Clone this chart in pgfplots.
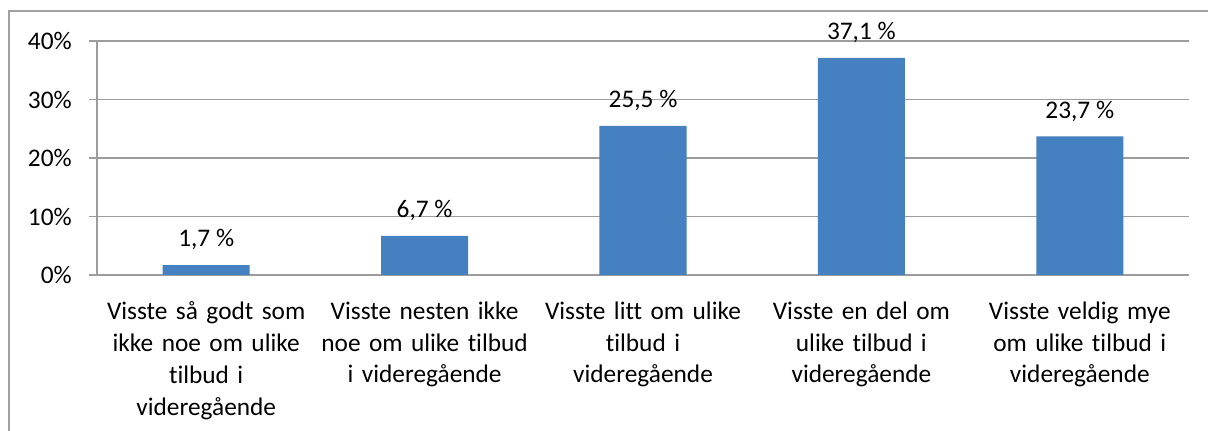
\documentclass[border=0pt]{standalone}
\usepackage{fontspec}
\setmainfont{Carlito}[Ligatures={NoCommon}]
\usepackage{pgfplots}
\pgfplotsset{compat=1.18}
\definecolor{barblue}{HTML}{4580C0}
\definecolor{gridgrey}{HTML}{9C9C9C}
\definecolor{framegrey}{HTML}{A0A0A0}
\begin{document}
\fontsize{19}{23.8}\selectfont
\begin{tikzpicture}
\useasboundingbox (0,0) rectangle (906pt,323.25pt);
\draw[framegrey,line width=0.9pt] (6.75pt,-10pt) -- (6.75pt,315pt) -- (915pt,315pt);
\begin{axis}[
  at={(72.75pt,117pt)}, anchor=south west,
  scale only axis,
  width=819pt, height=175.5pt,
  xmin=-0.5, xmax=4.5, ymin=0, ymax=40,
  axis x line*=bottom, axis y line*=left,
  axis line style={gridgrey,line width=0.8pt},
  ytick={0,10,20,30,40},
  yticklabel={\pgfmathprintnumber{\tick}\%},
  ymajorgrids, major grid style={gridgrey,line width=0.8pt},
  ytick style={gridgrey,line width=0.8pt},
  major tick length=6pt,
  y tick label style={anchor=east,inner sep=0pt,xshift=-12.75pt},
  /pgf/number format/assume math mode=true,
  xtick={0,1,2,3,4},
  x tick style={draw=none},
  minor xtick={-0.5,0.5,1.5,2.5,3.5,4.5},
  minor x tick style={gridgrey,line width=0.8pt},
  minor tick length=6pt,
  tick align=outside,
  xticklabels={{Visste så godt som\\ikke noe om ulike\\tilbud i\\videregående},
    {Visste nesten ikke\\noe om ulike tilbud\\i videregående},
    {Visste litt om ulike\\tilbud i\\videregående},
    {Visste en del om\\ulike tilbud i\\videregående},
    {Visste veldig mye\\om ulike tilbud i\\videregående}},
  x tick label style={text width=160pt,align=center,anchor=north,inner sep=0pt,yshift=-14pt},
  ybar, bar width=65.25pt,
  nodes near coords={\pgfmathprintnumber[fixed,fixed zerofill,precision=1,use comma]{\pgfplotspointmeta}~\%},
  nodes near coords style={anchor=south,inner sep=0pt,yshift=11pt,black},
  clip=false,
]
\addplot[fill=barblue,draw=none] coordinates {(0,1.7) (1,6.7) (2,25.5) (3,37.1) (4,23.7)};
\end{axis}
\end{tikzpicture}
\end{document}
